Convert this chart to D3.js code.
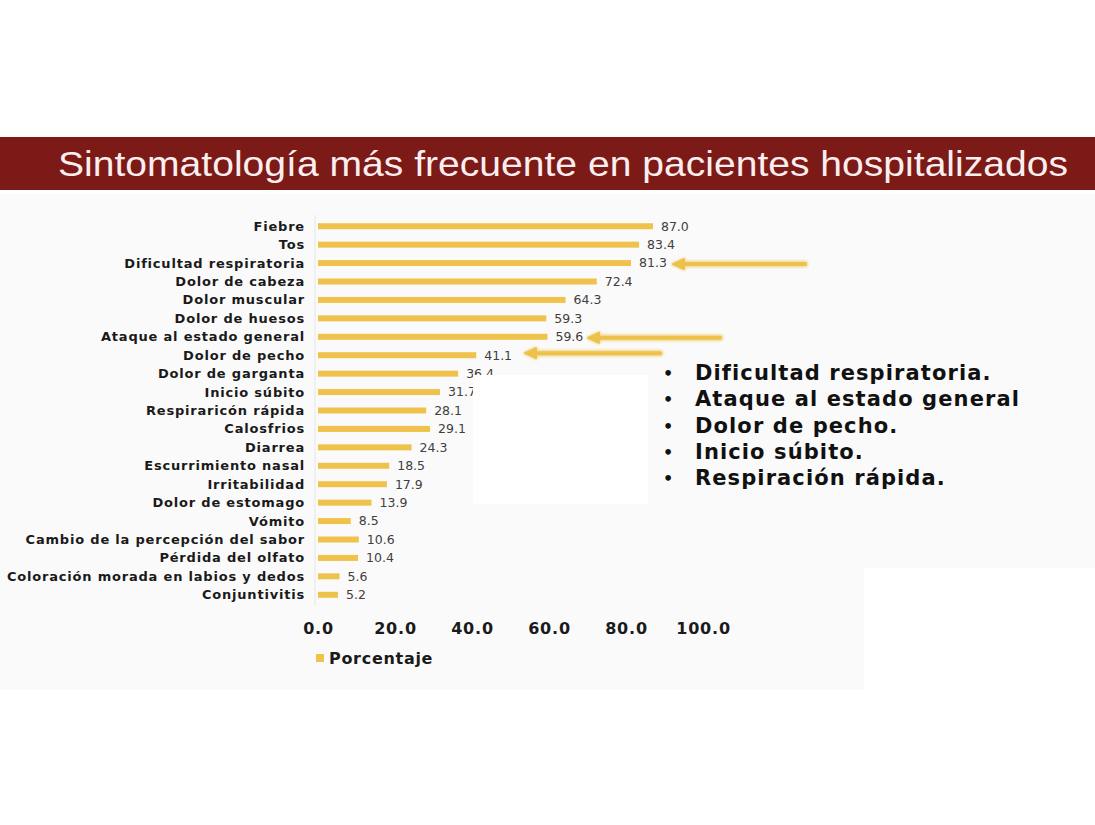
<!DOCTYPE html>
<html><head><meta charset="utf-8">
<script src="https://cdn.jsdelivr.net/npm/d3@7"></script>
<style>body{margin:0;background:#fff}svg{display:block}</style>
</head><body>
<script>
const title = "Sintomatología más frecuente en pacientes hospitalizados";
const categories = ["Fiebre","Tos","Dificultad respiratoria","Dolor de cabeza","Dolor muscular","Dolor de huesos","Ataque al estado general","Dolor de pecho","Dolor de garganta","Inicio súbito","Respiraricón rápida","Calosfrios","Diarrea","Escurrimiento nasal","Irritabilidad","Dolor de estomago","Vómito","Cambio de la percepción del sabor","Pérdida del olfato","Coloración morada en labios y dedos","Conjuntivitis"];
const values = [87.0,83.4,81.3,72.4,64.3,59.3,59.6,41.1,36.4,31.7,28.1,29.1,24.3,18.5,17.9,13.9,8.5,10.6,10.4,5.6,5.2];
const ticks = [0,20,40,60,80,100];
const seriesName = "Porcentaje";
const bullets = ["Dificultad respiratoria.","Ataque al estado general","Dolor de pecho.","Inicio súbito.","Respiración rápida."];
const arrowTargets = ["Dificultad respiratoria","Ataque al estado general","Dolor de pecho"];

const W=1095,H=825;
const FONT="Verdana, DejaVu Sans, sans-serif";
const svg=d3.select("body").append("svg").attr("width",W).attr("height",H);
const defs=svg.append("defs");
const f=defs.append("filter").attr("id","glow").attr("x","-20%").attr("y","-200%").attr("width","140%").attr("height","500%");
f.append("feGaussianBlur").attr("stdDeviation",1.2);

// panel backgrounds
svg.append("rect").attr("x",0).attr("y",194).attr("width",W).attr("height",374).attr("fill","#fafafa");
svg.append("rect").attr("x",0).attr("y",568).attr("width",864).attr("height",122).attr("fill","#fafafa");

// title band
svg.append("rect").attr("x",0).attr("y",137).attr("width",W).attr("height",53).attr("fill","#7b1a17");
svg.append("text").attr("x",58).attr("y",176).attr("fill","#fbeeee")
  .attr("font-family","Liberation Sans, Arial, sans-serif").attr("font-size",35)
  .attr("textLength",1010).attr("lengthAdjust","spacingAndGlyphs").text(title);

const x=d3.scaleLinear().domain([0,100]).range([318,703]);
const y=d3.scalePoint().domain(categories).range([217,604]).padding(0.5);
const barH=6, gold="#efc24c";

// faint axis line
svg.append("line").attr("x1",x(0)-3).attr("x2",x(0)-3).attr("y1",215).attr("y2",606).attr("stroke","#e6e6e6").attr("stroke-width",1);

svg.append("g").selectAll("rect").data(categories).join("rect")
  .attr("x",x(0)).attr("y",d=>y(d)-barH/2).attr("height",barH)
  .attr("width",(d,i)=>x(values[i])-x(0)).attr("fill",gold);

svg.append("g").selectAll("text").data(categories).join("text")
  .attr("x",305).attr("y",d=>y(d)).attr("dy","0.35em").attr("text-anchor","end")
  .attr("font-family",FONT).attr("font-weight","bold").attr("letter-spacing",0.8)
  .attr("font-size",13).attr("fill","#1a1a1a").text(d=>d);

svg.append("g").selectAll("text").data(categories).join("text")
  .attr("x",(d,i)=>x(values[i])+8).attr("y",d=>y(d)).attr("dy","0.35em")
  .attr("font-family",FONT)
  .attr("font-size",12.5).attr("fill","#404040").text((d,i)=>values[i].toFixed(1));

// axis tick labels
const xAxis=d3.axisBottom(x).tickValues(ticks).tickFormat(d3.format(".1f")).tickSize(0);
const gx=svg.append("g").attr("transform","translate(0,620)").call(xAxis);
gx.select(".domain").remove();
gx.selectAll("text").attr("font-family",FONT).attr("font-weight","bold").attr("letter-spacing",0.8)
  .attr("font-size",16).attr("fill","#1a1a1a");

// legend
svg.append("rect").attr("x",316).attr("y",654).attr("width",8).attr("height",8).attr("fill",gold);
svg.append("text").attr("x",329).attr("y",658).attr("dy","0.35em")
  .attr("font-family",FONT).attr("font-weight","bold").attr("letter-spacing",0.7)
  .attr("font-size",16).attr("fill","#1a1a1a").text(seriesName);

// white box overlay
svg.append("rect").attr("x",473).attr("y",375).attr("width",175).attr("height",129).attr("fill","#ffffff");

// arrows
const arrowData=[{c:arrowTargets[0],tip:673,tail:805,dy:1},{c:arrowTargets[1],tip:588,tail:720,dy:1},{c:arrowTargets[2],tip:525,tail:660,dy:-2}];
const ag=svg.append("g");
arrowData.forEach(a=>{
  const yy=y(a.c)+a.dy;
  const g=ag.append("g");
  [["#f3dc98",7,"url(#glow)"],["#ecc24a",4,null]].forEach(([col,sw,flt])=>{
    const gg=g.append("g"); if(flt) gg.attr("filter",flt);
    gg.append("line").attr("x1",a.tail).attr("x2",a.tip+6).attr("y1",yy).attr("y2",yy)
      .attr("stroke",col).attr("stroke-width",sw).attr("stroke-linecap","round");
    gg.append("path").attr("d",`M${a.tip},${yy} L${a.tip+11},${yy-5} L${a.tip+11},${yy+5} Z`)
      .attr("fill",col).attr("stroke",col).attr("stroke-width",sw/2).attr("stroke-linejoin","round");
  });
});

// bullets
const bg=svg.append("g");
bullets.forEach((b,i)=>{
  const by=380+i*26.3;
  bg.append("text").attr("x",663).attr("y",by-1).attr("font-family",FONT)
    .attr("font-weight","bold").attr("font-size",16).attr("fill","#111").text("•");
  bg.append("text").attr("x",695).attr("y",by).attr("font-family",FONT)
    .attr("font-weight","bold").attr("font-size",21).attr("letter-spacing",1.1).attr("fill","#111").text(b);
});
</script>
</body></html>
